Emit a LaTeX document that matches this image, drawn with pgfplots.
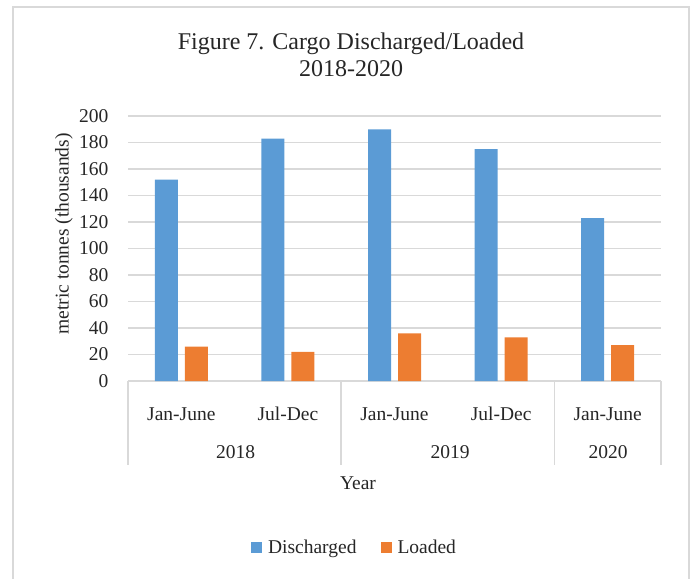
\documentclass[border=0pt]{standalone}
\usepackage{fontspec}
\setmainfont{Liberation Serif}
\usepackage{pgfplots}
\pgfplotsset{compat=1.18}

\definecolor{disch}{HTML}{5B9BD5}
\definecolor{load}{HTML}{ED7D31}
\definecolor{gridc}{HTML}{D9D9D9}
\definecolor{txt}{HTML}{262626}

\newcommand{\lbl}{\fontsize{19.5}{22}\selectfont}

\begin{document}
\begin{tikzpicture}[x=1pt,y=1pt]
\path[use as bounding box] (0,0) rectangle (693,-578);
\draw[gridc, line width=2pt] (13,-7) rectangle (689,-600);

\node[anchor=base, font=\fontsize{24}{26}\selectfont, text=txt] at (351,-50) {Figure 7. Cargo Discharged/Loaded};
\node[anchor=base, font=\fontsize{24}{26}\selectfont, text=txt] at (351,-76) {2018-2020};

\begin{axis}[
  at={(128pt,-381pt)}, anchor=south west,
  scale only axis, width=533pt, height=265pt,
  ybar=7pt, bar width=23pt,
  xmin=0.5, xmax=5.5, ymin=0, ymax=200,
  ytick distance=20,
  xtick={1,2,3,4,5},
  xticklabels={Jan-June,Jul-Dec,Jan-June,Jul-Dec,Jan-June},
  xticklabel style={anchor=base, yshift=-39pt},
  major tick length=0pt,
  ymajorgrids, grid style={gridc, line width=1.6pt},
  axis y line=left, y axis line style={draw=none},
  axis x line=bottom, x axis line style={gridc, line width=1.6pt, -},
  tick label style={font=\lbl, text=txt},
  /pgf/number format/assume math mode=true,
  yticklabel style={xshift=-16pt},
  ylabel={metric tonnes (thousands)},
  ylabel style={at={(axis description cs:-0.12,0.555)}, anchor=center, font=\lbl, text=txt},
  clip=false,
  legend style={at={(axis description cs:0.425,-0.63)}, anchor=center, draw=none,
    legend columns=2, font=\lbl, text=txt, inner sep=0pt,
    /tikz/every odd column/.append style={column sep=4pt},
    /tikz/every even column/.append style={column sep=22pt}},
  legend image code/.code={\fill[#1] (0pt,-5.5pt) rectangle (11pt,5.5pt);},
]
\addplot[fill=disch, draw=none] coordinates {(1,152) (2,183) (3,190) (4,175) (5,123)};
\addplot[fill=load, draw=none] coordinates {(1,26) (2,22) (3,36) (4,33) (5,27)};
\legend{Discharged,Loaded}
\foreach \xx in {0.5,2.5,4.5,5.5}{
  \edef\tmp{\noexpand\draw[gridc, line width=1.6pt] (axis cs:\xx,0) -- ([yshift=-84pt]axis cs:\xx,0);}
  \tmp
}
\end{axis}

\node[anchor=base, font=\lbl, text=txt] at (235.5,-458) {2018};
\node[anchor=base, font=\lbl, text=txt] at (450,-458) {2019};
\node[anchor=base, font=\lbl, text=txt] at (608,-458) {2020};
\node[anchor=base, font=\lbl, text=txt] at (358,-489) {Year};
\end{tikzpicture}
\end{document}
